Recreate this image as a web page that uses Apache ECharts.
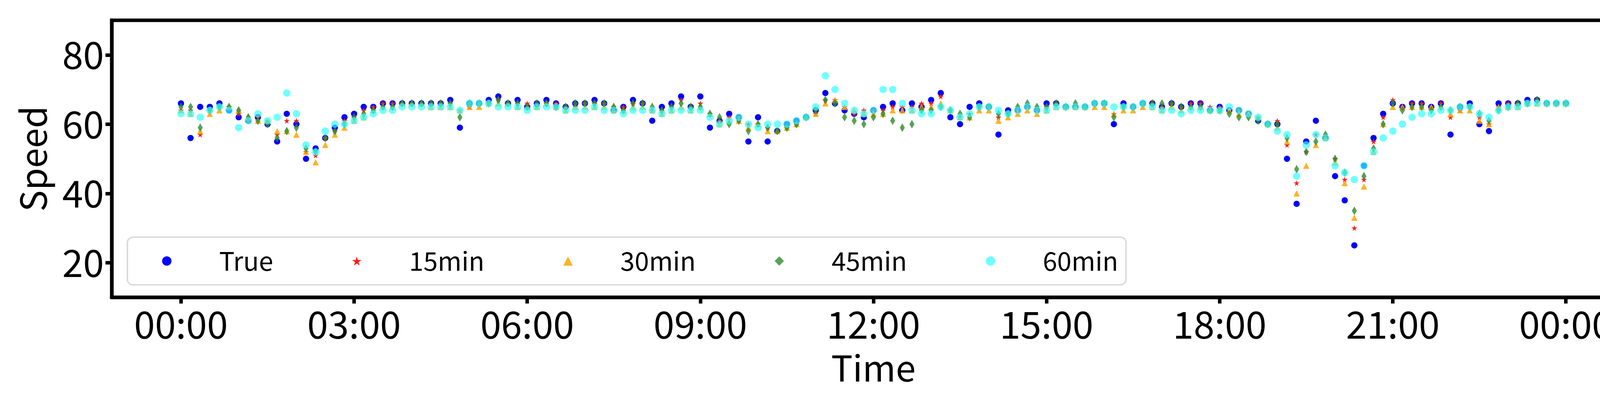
<!DOCTYPE html>
<html><head><meta charset="utf-8">
<script src="https://cdn.jsdelivr.net/npm/echarts@6/dist/echarts.min.js"></script>
<style>html,body{margin:0;padding:0;background:#fff}#c{width:4233px;height:1015px}</style>
</head><body><div id="c"></div>
<script>
const stepMinutes = 10;
const tickHours = [0,3,6,9,12,15,18,21,24];
const yTicks = [20,40,60,80];
const seriesNames = ['True','15min','30min','45min','60min'];
const trueVals = [66,56,65,65,66,64, 62,61,62,60,55,63, 60,50,53,56,59,62, 63,65,65,66,66,66, 66,66,66,66,67,59, 66,66,67,68,66,67,
 65,66,67,66,65,66, 66,67,66,64,65,67, 66,61,65,66,68,65, 68,59,61,63,62,55, 62,55,58,60,61,62, 64,69,66,64,63,62,
 64,65,66,64,66,65, 67,69,62,60,65,66, 65,57,64,64,65,64, 66,66,65,65,65,66, 66,60,66,65,66,66, 65,66,65,66,66,64,
 65,64,64,63,61,60, 60,50,37,55,61,56, 45,38,25,48,56,63, 66,65,66,66,65,66, 57,65,66,60,58,66, 66,66,67,67,66,66, 66];
const p15 = [64,64,57,64,65,65, 63,61,62,61,57,61, 61,52,51,56,58,61, 62,64,65,66,66,66, 66,66,66,66,66,64, 65,66,66,67,66,66,
 66,65,66,66,65,65, 66,66,66,65,65,66, 66,64,64,65,67,65, 66,63,61,62,62,60, 60,59,58,59,60,62, 63,67,67,65,63,64,
 64,64,65,65,65,66, 66,68,64,62,63,65, 65,62,63,64,65,64, 65,66,65,65,65,66, 66,63,65,65,66,66, 65,66,65,66,66,65,
 65,64,64,63,62,60, 61,54,43,52,57,56, 50,44,30,44,55,62, 67,65,66,66,65,66, 62,64,65,62,60,65, 66,66,66,67,66,66, 66];
const p30 = [64,63,58,63,64,65, 64,62,61,61,58,58, 57,52,49,54,57,59, 61,62,64,65,65,66, 66,66,65,65,65,64, 65,65,66,66,66,65,
 65,65,66,65,64,65, 65,65,65,64,64,65, 65,64,63,64,65,64, 65,63,60,61,61,59, 60,58,58,59,60,62, 63,66,67,65,64,63,
 63,63,64,64,64,65, 65,66,64,62,62,64, 64,61,62,63,64,63, 64,65,65,65,65,65, 65,63,64,64,65,65, 64,65,64,65,65,64,
 64,64,63,63,62,60, 59,55,40,48,54,56, 49,43,33,42,52,60, 65,65,65,65,65,65, 63,64,64,61,60,65, 65,65,66,66,66,66, 66];
const p45 = [65,65,59,64,65,65, 64,62,61,60,56,58, 59,53,52,56,58,60, 62,63,64,65,65,66, 66,66,66,66,66,62, 66,66,66,67,66,66,
 65,66,66,65,65,66, 66,66,66,65,64,66, 66,65,64,65,66,65, 65,63,62,60,61,58, 60,59,58,59,60,62, 64,67,66,62,61,60,
 62,63,61,59,60,64, 64,65,64,63,62,65, 65,63,63,65,66,65, 65,66,65,66,65,66, 66,62,65,65,66,66, 66,66,65,65,65,64,
 64,63,62,62,61,60, 60,56,47,52,55,57, 50,46,35,45,53,60, 66,64,65,65,64,65, 64,65,65,63,61,64, 65,66,66,67,66,66, 66];
const p60 = [63,63,62,64,65,64, 59,61,63,61,62,69, 63,54,52,58,60,60, 61,62,63,64,64,65, 65,65,65,65,65,64, 66,66,66,65,65,65,
 64,65,65,65,64,64, 64,65,64,64,63,64, 64,64,63,64,64,64, 64,62,60,61,62,60, 59,60,60,60,61,62, 65,74,70,66,64,63,
 64,70,70,66,64,63, 63,65,64,62,63,65, 65,64,63,64,65,64, 64,65,65,65,65,66, 66,65,65,65,66,65, 64,64,63,64,64,64,
 64,65,64,63,62,60, 58,57,45,54,57,56, 48,46,44,48,52,56, 58,60,62,63,63,64, 64,65,65,63,62,64, 65,65,66,66,66,66, 66];

const star = 'path://M50,0 L61,35 L98,35 L68,57 L79,91 L50,70 L21,91 L32,57 L2,35 L39,35 Z';
function pts(vals){ return vals.map((v,i)=>[i*stepMinutes/60, v]); }
const defs = [
  {name:seriesNames[0], data:trueVals, symbol:'circle', size:16, color:'#0000ff', opacity:1},
  {name:seriesNames[1], data:p15, symbol:star, size:15, color:'#ff1a1a', opacity:1},
  {name:seriesNames[2], data:p30, symbol:'triangle', size:16, color:'#ffa500', opacity:0.85},
  {name:seriesNames[3], data:p45, symbol:'diamond', size:[13,22], color:'#2e8b2e', opacity:0.8},
  {name:seriesNames[4], data:p60, symbol:'circle', size:19, color:'#33ffff', opacity:0.7}
];
const font = '"Noto Sans CJK SC", sans-serif';
const chart = echarts.init(document.getElementById('c'));
chart.setOption({
  animation:false,
  backgroundColor:'#fff',
  grid:{left:286, right:47, top:52, bottom:253, show:true, borderColor:'#000', borderWidth:9, backgroundColor:'transparent'},
  xAxis:{type:'value', min:-1.2, max:25.2,
    name:'Time', nameLocation:'middle', nameGap:135, nameTextStyle:{fontSize:92, color:'#000', fontFamily:font},
    axisLine:{show:true, onZero:false, lineStyle:{color:'#000', width:9}}, splitLine:{show:false},
    axisTick:{show:true, customValues:tickHours, length:16, lineStyle:{width:9, color:'#000'}},
    axisLabel:{customValues:tickHours, fontSize:96, color:'#000', fontFamily:font, margin:22,
      formatter:v=>String(Math.round(v)%24).padStart(2,'0')+':00'}},
  yAxis:{type:'value', min:10, max:90,
    name:'Speed', nameLocation:'middle', nameGap:155, nameTextStyle:{fontSize:92, color:'#000', fontFamily:font},
    axisLine:{show:true, onZero:false, lineStyle:{color:'#000', width:9}}, splitLine:{show:false},
    axisTick:{show:true, customValues:yTicks, length:16, lineStyle:{width:9, color:'#000'}},
    axisLabel:{customValues:yTicks, fontSize:96, color:'#000', fontFamily:font, margin:20}},
  legend:{left:326, top:608, orient:'horizontal', itemGap:202, itemWidth:24, itemHeight:24,
    padding:[28,20,28,89], borderColor:'#dcdcdc', borderWidth:4, borderRadius:14, backgroundColor:'rgba(255,255,255,0.8)',
    textStyle:{fontSize:66, color:'#000', fontFamily:font, width:190, padding:[0,0,0,117]},
    data:defs.map(d=>({name:d.name, icon:d.symbol}))},
  series:defs.map(d=>({type:'scatter', name:d.name, data:pts(d.data), symbol:d.symbol, symbolSize:d.size,
    itemStyle:{color:d.color, opacity:d.opacity}}))
});
</script></body></html>
